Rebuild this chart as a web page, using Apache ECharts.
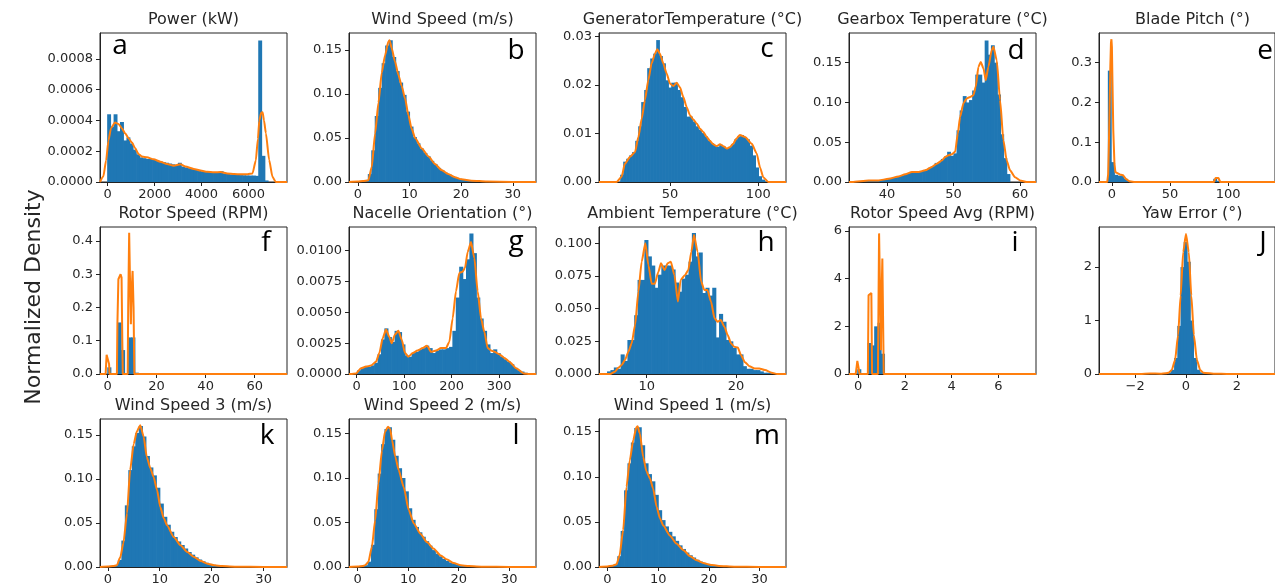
<!DOCTYPE html>
<html><head><meta charset="utf-8">
<script src="https://cdn.jsdelivr.net/npm/echarts@6/dist/echarts.min.js"></script>
<style>html,body{margin:0;padding:0;background:#fff;}#c{width:1275px;height:587px;}</style>
</head><body><div id="c"></div>
<script>
// ---------------- DATA ----------------
const panelTitles = ['Power (kW)','Wind Speed (m/s)','GeneratorTemperature (°C)','Gearbox Temperature (°C)','Blade Pitch (°)',
  'Rotor Speed (RPM)','Nacelle Orientation (°)','Ambient Temperature (°C)','Rotor Speed Avg (RPM)','Yaw Error (°)',
  'Wind Speed 3 (m/s)','Wind Speed 2 (m/s)','Wind Speed 1 (m/s)'];
const panelLetters = ['a','b','c','d','e','f','g','h','i','J','k','l','m'];
const yAxisName = 'Normalized Density';

const xRanges = [[-330,7640],[-1.7,34.5],[9.8,115.7],[34.3,62.4],[-11.1,140.4],[-3.1,73.2],[-16.2,377.5],[4.66,25.6],[-0.386,7.61],[-3.42,3.5],[-1.5,34.5],[-1.73,35.3],[-1.66,35.2]];
const yMaxes = [0.000968,0.1693,0.03076,0.1873,0.3746,0.4421,0.01192,0.1125,6.168,2.75,0.168,0.1663,0.1641];
const xTicks = [[0,2000,4000,6000],[0,10,20,30],[50,100],[40,50,60],[0,50,100],[0,20,40,60],[0,100,200,300],[10,20],[0,2,4,6],[-2,0,2],[0,10,20,30],[0,10,20,30],[0,10,20,30]];
const yTicks = [[0,0.0002,0.0004,0.0006,0.0008],[0,0.05,0.1,0.15],[0,0.01,0.02,0.03],[0,0.05,0.1,0.15],[0,0.1,0.2,0.3],[0,0.1,0.2,0.3,0.4],[0,0.0025,0.005,0.0075,0.01],[0,0.025,0.05,0.075,0.1],[0,2,4,6],[0,1,2],[0,0.05,0.1,0.15],[0,0.05,0.1,0.15],[0,0.05,0.1,0.15]];
const yDecimals = [4,2,2,2,1,1,4,3,0,0,2,2,2];
// histogram bins: [first edge, bin width]
const binStartWidth = [[-10,137],[0,0.67],[22,1.7],[35,0.47],[-3.2,2.75],[0,1.4],[1.7,7.16],[5.6,0.38],[-0.02,0.145],[-3.1,0.126],[0,0.67],[0,0.67],[0,0.67]];

const powerHist = [0.00044,0.00036,0.00044,0.00033,0.00039,0.00027,0.00029,0.00025,0.00021,0.00018,0.00016,0.000155,0.00015,0.00015,0.000145,0.00014,0.000135,0.00013,0.000125,0.00012,0.000115,0.00011,0.000125,0.0001,0.000095,0.00009,0.000085,0.00008,0.000075,0.00007,0.000068,0.000065,0.000063,0.000062,0.000063,0.00007,0.000055,0.000052,0.00005,0.000048,0.000046,0.000045,0.000044,0.000043,0.000042,0.000042,0.00004,0.00092,0.00017,0.00001];
const powerKde = [[-330,0],[-190,0.000035],[-70,0.00014],[30,0.00027],[140,0.00035],[310,0.000386],[460,0.000377],[600,0.00035],[740,0.000317],[890,0.000284],[1030,0.000256],[1170,0.000219],[1310,0.000182],[1460,0.000165],[1670,0.00016],[1960,0.000147],[2240,0.000132],[2530,0.000117],[2810,0.000106],[3100,0.000115],[3310,0.0001],[3670,0.000085],[3960,0.000074],[4240,0.000067],[4530,0.000063],[4810,0.000065],[5100,0.000056],[5390,0.000052],[5670,0.00005],[5960,0.00005],[6170,0.000056],[6310,0.00014],[6400,0.00028],[6460,0.0004],[6540,0.00045],[6600,0.000453],[6660,0.0004],[6740,0.000317],[6880,0.000143],[7020,0.000034],[7160,0],[7640,0]];

const windHist = [0.001,0.001,0.002,0.009,0.036,0.075,0.107,0.135,0.155,0.161,0.142,0.126,0.113,0.099,0.08,0.063,0.051,0.044,0.038,0.033,0.029,0.024,0.02,0.016,0.013,0.0105,0.0085,0.0066,0.005,0.0037,0.0028,0.002,0.0015,0.0011,0.0008,0.0006,0.0004,0.0003,0.0002,0.00015,0.0001,0.0001,0.00007,0.00005,0.00004,0.00003,0.00002,0.00002,0.00001,0.00001];
const windKde = [[-1.7,0],[0,0.0005],[1,0.001],[2.05,0.002],[2.7,0.017],[3.35,0.055],[4.0,0.09],[4.64,0.124],[5.28,0.144],[5.92,0.1595],[6.15,0.161],[6.57,0.152],[7.2,0.137],[7.85,0.122],[8.5,0.109],[9.15,0.095],[9.8,0.076],[10.4,0.061],[11.1,0.05],[12.4,0.038],[13.7,0.029],[14.95,0.0205],[16.2,0.0136],[17.5,0.009],[18.8,0.0053],[20.1,0.003],[22,0.0015],[25,0.0005],[30,0.0001],[34.5,0]];

const genHist = [0.0015,0.0042,0.0048,0.0055,0.0062,0.0085,0.0115,0.0165,0.019,0.0235,0.0255,0.0265,0.0293,0.026,0.0245,0.021,0.0195,0.0205,0.0205,0.019,0.0175,0.0155,0.0135,0.0135,0.0125,0.0115,0.0108,0.0101,0.0094,0.0086,0.008,0.0075,0.0073,0.0077,0.0073,0.0069,0.0072,0.0078,0.0088,0.0094,0.0097,0.0093,0.0088,0.0075,0.0055,0.003,0.0012,0.0005,0.0001,0];
const genKde = [[9.8,0],[19.8,0],[22.6,0.0011],[24.5,0.0038],[27.4,0.0052],[30.2,0.0062],[32.1,0.0093],[34.0,0.0131],[35.8,0.0169],[37.7,0.021],[39.6,0.0245],[41.5,0.0265],[42.8,0.0274],[44.3,0.0265],[46.2,0.0245],[48.1,0.0224],[50,0.0203],[51.9,0.0198],[53.8,0.0205],[55.7,0.0195],[57.5,0.0176],[59.4,0.0155],[61.3,0.0138],[63.2,0.0129],[65.1,0.0121],[67,0.011],[68.9,0.0103],[70.8,0.0093],[72.6,0.0085],[74.5,0.0078],[76.4,0.0074],[78.3,0.0078],[80.2,0.0074],[82.1,0.0069],[84,0.0072],[85.8,0.0079],[87.7,0.009],[89.6,0.0097],[92.5,0.0093],[96.3,0.0079],[99.1,0.0059],[101,0.003],[102.8,0.001],[105.7,0],[115.7,0]];

const gearHist = [0.0005,0.0005,0.001,0.001,0.0015,0.002,0.002,0.002,0.002,0.003,0.003,0.004,0.005,0.006,0.007,0.008,0.0095,0.011,0.012,0.013,0.013,0.0125,0.014,0.016,0.018,0.02,0.024,0.025,0.029,0.032,0.038,0.033,0.036,0.065,0.09,0.108,0.1,0.103,0.115,0.135,0.135,0.125,0.178,0.16,0.172,0.15,0.11,0.06,0.03,0.01];
const gearKde = [[34.3,0],[34.75,0],[37.25,0.002],[38.75,0.002],[40.25,0.004],[41.75,0.007],[42.75,0.0097],[43.75,0.0126],[44.75,0.0126],[45.75,0.0147],[46.75,0.019],[47.5,0.023],[48.25,0.027],[48.75,0.0315],[49.25,0.0336],[49.75,0.035],[50.25,0.038],[50.65,0.061],[51,0.082],[51.5,0.099],[52,0.105],[52.5,0.107],[53,0.109],[53.35,0.12],[53.75,0.145],[54.1,0.151],[54.5,0.143],[54.85,0.128],[55.25,0.145],[55.75,0.166],[56,0.17],[56.5,0.153],[57,0.103],[57.5,0.0525],[58,0.027],[58.5,0.0147],[59.25,0.006],[60,0.002],[61,0],[62.4,0]];

const pitchHist = [0.28,0.05,0.018,0.016,0.015,0.008,0.003,0.001,0.0005,0,0,0,0,0,0,0,0,0,0,0,0,0,0,0,0,0,0,0,0,0,0,0,0,0.008,0.003];
const pitchKde = [[-11.1,0],[-4,0],[-3.2,0.02],[-2.7,0.08],[-2,0.18],[-1.35,0.29],[-0.8,0.35],[-0.4,0.359],[0,0.34],[0.5,0.25],[1.2,0.13],[2.2,0.046],[3,0.025],[4,0.021],[6.8,0.019],[9.5,0.017],[12,0.008],[15,0.002],[19,0],[87.8,0],[89.2,0.01],[90.5,0.014],[91.8,0.01],[93.2,0],[140.4,0]];

const rotorHist = [0.02,0,0.002,0.155,0.072,0.002,0.11,0.11,0.004];
const rotorKde = [[-3.1,0],[-0.8,0],[-0.6,0.03],[-0.4,0.058],[0.2,0.06],[0.6,0.03],[0.8,0],[3.8,0],[4.0,0.15],[4.4,0.285],[4.9,0.29],[5.3,0.3],[5.7,0.29],[6.0,0.1],[6.2,0],[8.2,0],[8.4,0.2],[8.8,0.425],[9.1,0.3],[9.5,0.15],[9.8,0.25],[10.2,0.31],[10.6,0.2],[10.9,0],[73.2,0]];

const nacelleHist = [0.0003,0.0005,0.0006,0.0006,0.0007,0.0009,0.0016,0.0028,0.0037,0.003,0.0026,0.0035,0.0034,0.0024,0.0015,0.0014,0.0017,0.0018,0.002,0.0021,0.0023,0.0021,0.0017,0.0019,0.002,0.002,0.0021,0.0022,0.0035,0.0062,0.0087,0.0077,0.0093,0.0114,0.0098,0.0062,0.0045,0.0035,0.0024,0.0017,0.002,0.0017,0.0014,0.0012,0.001,0.0008,0.0005,0.0003,0.0002,0.0001];
const nacelleKde = [[-16.2,0],[-12,0],[-1.4,0.00005],[9,0.00046],[19.6,0.0006],[30,0.00068],[40.7,0.001],[47.7,0.0017],[54.7,0.0029],[61.8,0.0036],[68.8,0.003],[73.7,0.0025],[80.7,0.0032],[87.7,0.0035],[94.7,0.0028],[101.8,0.0017],[108.8,0.0014],[118,0.0017],[128,0.0019],[139,0.0021],[148,0.0023],[156.5,0.0018],[167,0.0019],[177.5,0.0021],[188,0.0021],[195,0.0026],[202,0.0045],[209,0.0067],[216,0.0082],[223,0.0083],[228,0.0086],[233.7,0.0099],[240.7,0.0107],[247.7,0.0094],[254.7,0.0067],[261.8,0.0045],[268.8,0.0034],[275.8,0.0021],[283,0.0019],[290,0.0018],[300,0.0016],[311,0.0013],[321.5,0.001],[335.6,0.00046],[351.6,0.00005],[363.6,0],[377.5,0]];

const ambientHist = [0.002,0.003,0.005,0.004,0.015,0.01,0.026,0.026,0.045,0.072,0.072,0.1025,0.09,0.083,0.066,0.076,0.083,0.083,0.083,0.08,0.07,0.063,0.073,0.076,0.086,0.108,0.09,0.093,0.062,0.066,0.06,0.066,0.028,0.046,0.04,0.026,0.025,0.02,0.015,0.015,0.006,0.004,0.004,0.003,0.003,0.002,0.001,0.001,0.0005,0.0005];
const ambientKde = [[4.66,0],[5.9,0],[6.45,0.0018],[6.83,0.0048],[7.2,0.0069],[7.57,0.0107],[7.95,0.017],[8.32,0.0235],[8.7,0.0375],[9.07,0.063],[9.44,0.086],[9.85,0.1],[10.2,0.083],[10.56,0.069],[10.9,0.069],[11.3,0.078],[11.6,0.0847],[12.0,0.0796],[12.35,0.0847],[12.7,0.086],[13.1,0.0758],[13.5,0.0554],[13.8,0.072],[14.3,0.0758],[14.66,0.0796],[15.0,0.0936],[15.3,0.1064],[15.7,0.0936],[16.1,0.0707],[16.45,0.0643],[16.8,0.0643],[17.2,0.0554],[17.6,0.0426],[17.95,0.04],[18.3,0.0413],[18.7,0.0362],[19.07,0.0298],[19.44,0.0235],[19.8,0.0209],[20.2,0.0202],[20.56,0.0145],[21.0,0.009],[21.5,0.006],[22.1,0.0043],[22.6,0.0043],[23.25,0.003],[24,0.001],[24.6,0],[25.6,0]];

const rotorAvgHist = [0.2,0,0,1.3,1.2,2.0,2.15,0.85];
const rotorAvgKde = [[-0.386,0],[-0.1,0],[-0.06,0.3],[-0.03,0.55],[0.02,0.5],[0.07,0],[0.42,0],[0.45,3.3],[0.5,3.35],[0.57,3.4],[0.6,0],[0.85,0],[0.9,5.9],[0.95,3],[0.98,1],[1.0,3],[1.04,4.85],[1.1,0],[7.61,0]];

const yawHist = [0.001,0.001,0.001,0.001,0.001,0.001,0.002,0.002,0.002,0.002,0.002,0.003,0.004,0.008,0.004,0.005,0.006,0.008,0.012,0.03,0.08,0.3,0.9,2.0,2.47,2.1,1.0,0.3,0.08,0.03,0.012,0.008,0.006,0.004,0.003,0.002,0.001,0.001,0.001,0.001,0.001,0.001,0.001,0.001,0.001,0.001,0.001,0.001,0.001,0.001];
const yawKde = [[-3.42,0],[-1.8,0],[-1.42,0.01],[-1.0,0.005],[-0.8,0.012],[-0.68,0.025],[-0.56,0.075],[-0.43,0.26],[-0.31,0.73],[-0.21,1.47],[-0.11,2.28],[0,2.62],[0.11,2.28],[0.21,1.47],[0.31,0.73],[0.43,0.26],[0.56,0.075],[0.68,0.025],[1.17,0.005],[1.6,0],[3.5,0]];

const wind3Hist = [0.001,0.001,0.002,0.008,0.03,0.07,0.11,0.137,0.152,0.16,0.148,0.126,0.113,0.104,0.09,0.072,0.057,0.048,0.04,0.034,0.029,0.025,0.021,0.017,0.014,0.011,0.0085,0.0065,0.0048,0.0035,0.0025,0.0019,0.0014,0.001,0.0008,0.0006,0.0004,0.0003,0.0002,0.00015,0.0001,0.0001,0.00007,0.00005,0.00004,0.00003,0.00002,0.00002,0.00001,0.00001];
const wind3Kde = [[-1.5,0],[0,0.0005],[1.0,0.001],[1.74,0.002],[2.4,0.011],[3.0,0.027],[3.7,0.061],[4.3,0.11],[5.0,0.14],[5.6,0.154],[6.26,0.161],[6.9,0.148],[7.5,0.125],[8.2,0.112],[8.8,0.1025],[9.5,0.087],[10.1,0.068],[10.8,0.055],[11.4,0.0475],[12.7,0.034],[14.0,0.0247],[15.3,0.017],[16.6,0.0114],[17.9,0.0068],[19.2,0.0038],[20.5,0.0019],[22,0.001],[25,0.0004],[30,0.0001],[34.5,0]];

const wind2Hist = [0.001,0.001,0.002,0.006,0.025,0.065,0.105,0.138,0.155,0.157,0.143,0.125,0.111,0.1,0.085,0.066,0.053,0.045,0.039,0.034,0.029,0.024,0.019,0.015,0.012,0.009,0.0068,0.005,0.0037,0.0027,0.0019,0.0014,0.001,0.0008,0.0006,0.0004,0.0003,0.0002,0.00015,0.0001,0.0001,0.00007,0.00005,0.00004,0.00003,0.00002,0.00002,0.00001,0.00001,0.00001];
const wind2Kde = [[-1.73,0],[0,0.0005],[1.0,0.001],[1.46,0.002],[2.1,0.0056],[2.8,0.0225],[3.45,0.0525],[4.1,0.094],[4.8,0.131],[5.4,0.152],[6.0,0.1575],[6.43,0.155],[6.8,0.1425],[7.43,0.124],[8.1,0.109],[9.1,0.09],[10.1,0.064],[11.1,0.049],[12.4,0.0375],[13.7,0.028],[15.0,0.0207],[16.4,0.013],[17.7,0.0083],[19.0,0.0045],[20.4,0.002],[22,0.001],[25,0.0004],[30,0.0001],[35.3,0]];

const wind1Hist = [0.001,0.002,0.003,0.012,0.04,0.085,0.115,0.138,0.154,0.155,0.135,0.115,0.103,0.095,0.08,0.063,0.052,0.045,0.039,0.034,0.029,0.024,0.02,0.016,0.013,0.0105,0.008,0.006,0.0046,0.0035,0.0026,0.0019,0.0014,0.001,0.0008,0.0006,0.0004,0.0003,0.0002,0.00015,0.0001,0.0001,0.00007,0.00005,0.00004,0.00003,0.00002,0.00002,0.00001,0.00001];
const wind1Kde = [[-1.66,0],[0,0.0005],[1.0,0.0015],[1.8,0.003],[2.4,0.013],[3.1,0.041],[3.76,0.089],[4.4,0.118],[5.1,0.141],[5.7,0.155],[5.95,0.156],[6.4,0.148],[7.05,0.122],[7.7,0.106],[8.4,0.098],[9.0,0.087],[9.7,0.0667],[10.35,0.054],[11.0,0.046],[12.3,0.035],[13.6,0.026],[15.0,0.0185],[16.3,0.012],[17.6,0.0074],[18.9,0.0044],[20.2,0.0026],[22,0.0012],[25,0.0004],[30,0.0001],[35.2,0]];

const hists = [powerHist,windHist,genHist,gearHist,pitchHist,rotorHist,nacelleHist,ambientHist,rotorAvgHist,yawHist,wind3Hist,wind2Hist,wind1Hist];
const kdes = [powerKde,windKde,genKde,gearKde,pitchKde,rotorKde,nacelleKde,ambientKde,rotorAvgKde,yawKde,wind3Kde,wind2Kde,wind1Kde];

// ---------------- LAYOUT ----------------
const colLeft = [100,349,599,849,1099];
const rowTop = [33,227,419];
const rowH = [149,147,148];
const W = 187;
const spiky = [false,false,false,false,true,true,false,false,true,false,false,false,false];
const letterPos = [[120,60],[516,65],[767,63],[1016,65],[1265,65],[266,257],[516,256],[766,257],[1015,257],[1263,257],[267,450],[516,450],[767,450]];

const FONT = 'DejaVu Sans';
const TXT = '#262626';
const grids=[], xAxes=[], yAxes=[], series=[], graphics=[];

function renderBar(params, api){
  const a = api.coord([api.value(0), api.value(2)]);
  const b = api.coord([api.value(1), 0]);
  return {type:'rect', shape:{x:a[0]-0.35, y:a[1], width:b[0]-a[0]+0.7, height:b[1]-a[1]}, style:{fill:'#1f77b4'}};
}
const fmtX = v => (v < 0 ? '\u2212' + Math.abs(v) : String(v));

for (let i = 0; i < 13; i++) {
  const r = Math.floor(i/5), c = i%5;
  const left = colLeft[c], top = rowTop[r], h = rowH[r];
  grids.push({left:left, top:top, width:W, height:h, show:true, borderColor:'#222', borderWidth:1, containLabel:false});
  xAxes.push({gridIndex:i, type:'value', min:xRanges[i][0], max:xRanges[i][1],
    axisLine:{show:true, onZero:false, lineStyle:{color:'#222', width:1}},
    axisTick:{show:true, length:4, inside:false, customValues:xTicks[i], lineStyle:{color:'#222'}},
    axisLabel:{customValues:xTicks[i], formatter:fmtX, fontFamily:FONT, fontSize:13, color:TXT, margin:6},
    splitLine:{show:false}});
  const d = yDecimals[i];
  yAxes.push({gridIndex:i, type:'value', min:0, max:yMaxes[i],
    axisLine:{show:true, onZero:false, lineStyle:{color:'#222', width:1}},
    axisTick:{show:true, length:4, inside:false, customValues:yTicks[i], lineStyle:{color:'#222'}},
    axisLabel:{customValues:yTicks[i], formatter:v => Number(v).toFixed(d), fontFamily:FONT, fontSize:13, color:TXT, margin:7},
    splitLine:{show:false}});
  const bs = binStartWidth[i];
  const barData = hists[i].map((v,k) => [bs[0] + k*bs[1], bs[0] + (k+1)*bs[1], v]);
  series.push({type:'custom', xAxisIndex:i, yAxisIndex:i, renderItem:renderBar, data:barData, clip:true, silent:true,
    encode:{x:[0,1], y:2}, z:2});
  series.push({type:'line', xAxisIndex:i, yAxisIndex:i, data:kdes[i], showSymbol:false, symbol:'none',
    smooth: spiky[i] ? false : 0.2, smoothMonotone:'x', clip:true, silent:true,
    lineStyle:{color:'#ff7f0e', width:2}, itemStyle:{color:'#ff7f0e'}, z:3});
  graphics.push({type:'text', x:left + W/2, y:top - 13, style:{text:panelTitles[i], textAlign:'center', textVerticalAlign:'middle', fontFamily:FONT, fontSize:16, fill:TXT}, z:10});
  graphics.push({type:'text', x:letterPos[i][0], y:letterPos[i][1], style:{text:panelLetters[i], textAlign:'center', textVerticalAlign:'bottom', fontFamily:'Open Sans', fontSize:28, fill:'#000'}, z:10});
}
graphics.push({type:'text', x:34, y:297, rotation:Math.PI/2, style:{text:yAxisName, textAlign:'center', textVerticalAlign:'middle', fontFamily:FONT, fontSize:22, fill:TXT}, z:10});

const chart = echarts.init(document.getElementById('c'), null, {renderer:'canvas'});
chart.setOption({animation:false, backgroundColor:'#fff', grid:grids, xAxis:xAxes, yAxis:yAxes, series:series, graphic:graphics});
</script></body></html>
